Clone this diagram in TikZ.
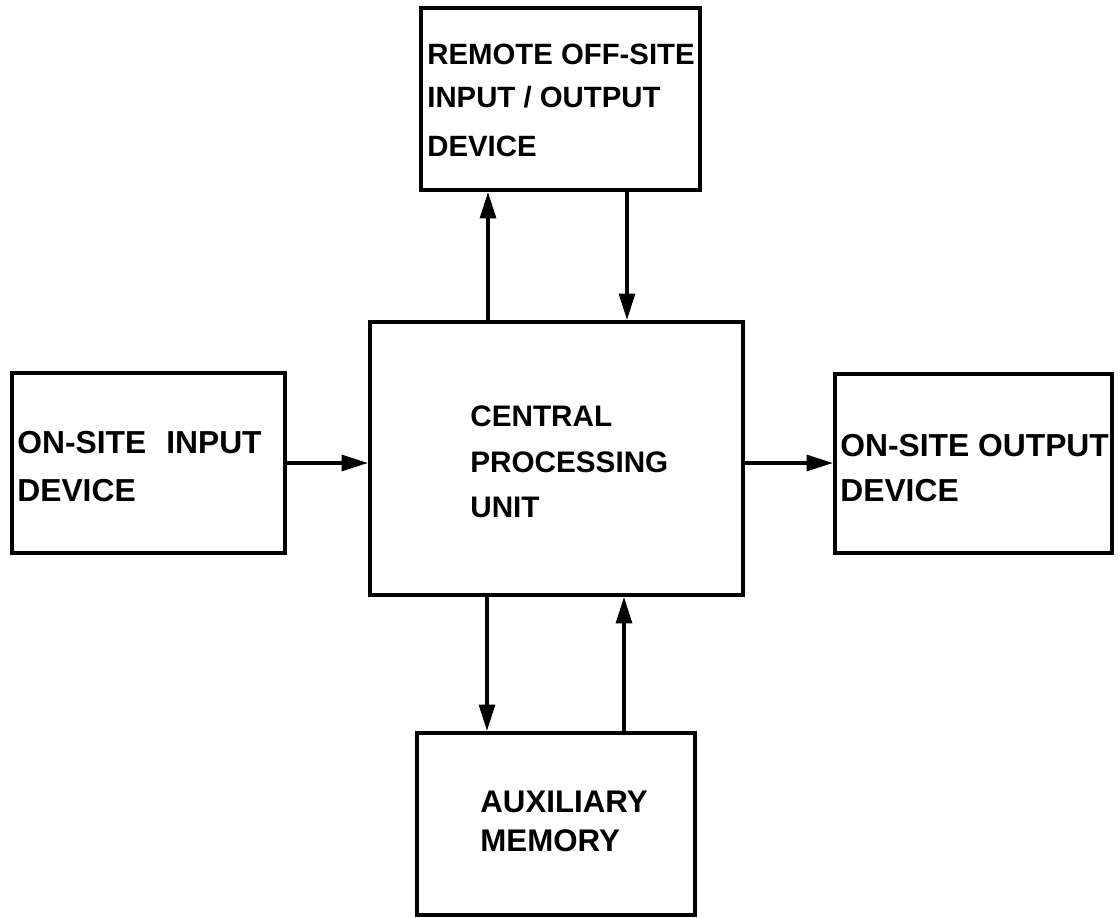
\documentclass[tikz,border=0pt]{standalone}
\usepackage{fontspec}
\setmainfont{Liberation Sans}
\usetikzlibrary{arrows.meta}

\tikzset{
  box/.style={draw, line width=2.3pt, rectangle, inner sep=0pt},
  lbl/.style={anchor=base west, inner sep=0pt, font=\bfseries},
  arr/.style={line width=2pt, -{Triangle[length=15pt, width=9pt]}},
  fA/.style={font=\fontsize{16.7pt}{19pt}\selectfont\bfseries},
  fB/.style={font=\fontsize{16.9pt}{19pt}\selectfont\bfseries},
  fC/.style={font=\fontsize{18.1pt}{21pt}\selectfont\bfseries},
  fD/.style={font=\fontsize{17.8pt}{21pt}\selectfont\bfseries}
}

\begin{document}
\begin{tikzpicture}[x=0.02cm, y=-0.02cm]
  \fill[white] (0,0) rectangle (1120,918);
  \useasboundingbox (0,0) rectangle (1120,918);

  % blocks
  \node[box, minimum width=5.58cm, minimum height=3.64cm] (remote) at (560.5,99) {};
  \node[box, minimum width=7.46cm, minimum height=5.46cm] (cpu) at (556.5,458.5) {};
  \node[box, minimum width=5.46cm, minimum height=3.60cm] (input) at (148.5,463) {};
  \node[box, minimum width=5.54cm, minimum height=3.58cm] (output) at (973.5,463.5) {};
  \node[box, minimum width=5.56cm, minimum height=3.64cm] (aux) at (556,824) {};

  % block texts
  \node[lbl, fA] (r1) at (427,65) {REMOTE OFF-SITE};
  \node[lbl, fA] (r2) at (427,108) {INPUT / OUTPUT};
  \node[lbl, fA] (r3) at (427,157) {DEVICE};

  \node[lbl, fB] (c1) at (470,427) {CENTRAL};
  \node[lbl, fB] (c2) at (470,473) {PROCESSING};
  \node[lbl, fB] (c3) at (470,518) {UNIT};

  \node[lbl, fC] (i1) at (17,454) {ON-SITE\hspace{0.35em} INPUT};
  \node[lbl, fC] (i2) at (17,502) {DEVICE};

  \node[lbl, fC] (o1) at (840,457) {ON-SITE OUTPUT};
  \node[lbl, fC] (o2) at (840,502) {DEVICE};

  \node[lbl, fD] (a1) at (480,813) {AUXILIARY};
  \node[lbl, fD] (a2) at (480,852) {MEMORY};

  % connector columns / rows
  \coordinate (ru) at (488,0);
  \coordinate (rd) at (627,0);
  \coordinate (ad) at (487,0);
  \coordinate (au) at (624,0);
  \coordinate (mid) at (0,463);

  % connectors
  \draw[arr] (cpu.north -| ru) -- (remote.south -| ru);
  \draw[arr] (remote.south -| rd) -- (cpu.north -| rd);
  \draw[arr] (cpu.south -| ad) -- (aux.north -| ad);
  \draw[arr] (aux.north -| au) -- (cpu.south -| au);
  \draw[arr] (input.east |- mid) -- (cpu.west |- mid);
  \draw[arr] (cpu.east |- mid) -- (output.west |- mid);
\end{tikzpicture}
\end{document}
